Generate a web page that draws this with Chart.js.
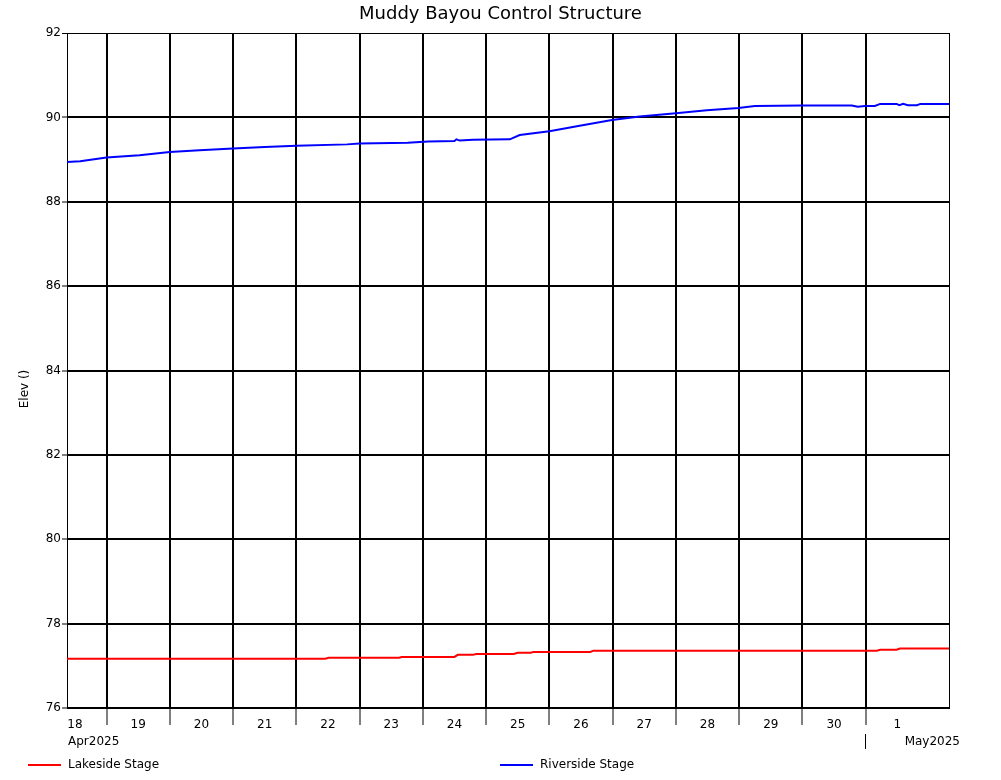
<!DOCTYPE html>
<html>
<head>
<meta charset="utf-8">
<title>Muddy Bayou Control Structure</title>
<script src="https://cdn.jsdelivr.net/npm/chart.js@4.4.0/dist/chart.umd.min.js"></script>
<style>
  html, body { margin: 0; padding: 0; background: #fff; }
  #wrap { position: relative; width: 1001px; height: 780px; }
</style>
</head>
<body>
<div id="wrap"><canvas id="stage"></canvas></div>
<script>
// readings, Apr 18 - May 2 2025 ("MM-DD HH:mm")
const lakeTimes = [
  '04-18 09:00', '04-22 11:00', '04-22 12:15', '04-23 15:00', '04-23 16:00',
  '04-24 12:00', '04-24 13:15', '04-24 19:00', '04-24 20:15', '04-25 10:30',
  '04-25 12:00', '04-25 17:00', '04-25 18:00', '04-26 15:30', '04-26 16:45',
  '05-01 04:15', '05-01 05:30', '05-01 11:45', '05-01 13:00', '05-02 08:00'
];
const lakeStage = [
  77.17, 77.17, 77.19, 77.19, 77.21,
  77.21, 77.26, 77.26, 77.28, 77.28,
  77.31, 77.31, 77.33, 77.33, 77.36,
  77.36, 77.38, 77.38, 77.41, 77.41
];

const riverTimes = [
  '04-18 09:00', '04-18 14:00', '04-19 00:00', '04-19 12:30', '04-20 00:00',
  '04-20 11:15', '04-21 00:00', '04-21 12:00', '04-22 00:00', '04-22 19:15',
  '04-23 00:00', '04-23 18:15', '04-24 02:00', '04-24 12:00', '04-24 12:45',
  '04-24 14:00', '04-24 19:00', '04-25 09:00', '04-25 12:45', '04-26 00:00',
  '04-26 11:30', '04-26 23:45', '04-27 10:15', '04-28 00:00', '04-28 11:45',
  '04-28 23:45', '04-29 06:00', '04-29 23:45', '04-30 18:45', '04-30 21:00',
  '04-30 23:45', '05-01 03:30', '05-01 05:30', '05-01 11:45', '05-01 12:45',
  '05-01 14:15', '05-01 16:00', '05-01 19:30', '05-01 20:45', '05-02 08:00'
];
const riverStage = [
  88.94, 88.96, 89.05, 89.10, 89.18,
  89.22, 89.26, 89.30, 89.33, 89.36,
  89.38, 89.40, 89.43, 89.44, 89.48,
  89.45, 89.47, 89.48, 89.58, 89.67,
  89.80, 89.94, 90.02, 90.10, 90.17,
  90.22, 90.27, 90.28, 90.28, 90.25,
  90.27, 90.27, 90.32, 90.32, 90.29,
  90.32, 90.29, 90.29, 90.32, 90.32
];

const dayLabels = ['18', '19', '20', '21', '22', '23', '24', '25', '26', '27', '28', '29', '30', '1'];
const elevTicks = [76, 78, 80, 82, 84, 86, 88, 90, 92];
const startTime = '04-18 09:00';
const endTime = '05-02 08:00';

const FONT = '"DejaVu Sans", Verdana, sans-serif';

// days since Apr 18 00:00
const t0 = Date.UTC(2025, 3, 18);
function toDay(s) {
  const [md, hm] = s.split(' ');
  const [mo, d] = md.split('-').map(Number);
  const [h, mi] = hm.split(':').map(Number);
  return (Date.UTC(2025, mo - 1, d, h, mi) - t0) / 86400000;
}

const isDay = v => Math.abs(v - Math.round(v)) < 1e-6;

// titles, month labels, legend, right frame edge
const extras = {
  id: 'extras',
  afterDraw(chart) {
    const c = chart.ctx;
    const a = chart.chartArea;
    c.save();
    c.fillStyle = '#000';
    c.strokeStyle = '#000';

    c.lineWidth = 1;
    c.beginPath();
    c.moveTo(a.right - 0.5, a.top);
    c.lineTo(a.right - 0.5, a.bottom);
    c.stroke();

    c.font = '18px ' + FONT;
    c.textAlign = 'center';
    c.textBaseline = 'alphabetic';
    c.fillText('Muddy Bayou Control Structure', 500.5, 19);

    c.font = '12px ' + FONT;
    c.save();
    c.translate(28, 389);
    c.rotate(-Math.PI / 2);
    c.textBaseline = 'alphabetic';
    c.fillText('Elev ()', 0, 0);
    c.restore();

    c.textAlign = 'left';
    c.fillText('Apr2025', 68, 745);
    c.textAlign = 'right';
    c.fillText('May2025', 960, 745);

    const xs = chart.scales.x.getPixelForValue(toDay('05-01 00:00'));
    c.beginPath();
    c.moveTo(Math.round(xs) - 0.5, 734);
    c.lineTo(Math.round(xs) - 0.5, 749);
    c.stroke();

    const items = [
      { label: chart.data.datasets[0].label, color: '#ff0000', x: 28 },
      { label: chart.data.datasets[1].label, color: '#0000ff', x: 500 }
    ];
    c.textAlign = 'left';
    c.textBaseline = 'middle';
    items.forEach(it => {
      c.strokeStyle = it.color;
      c.lineWidth = 2;
      c.beginPath();
      c.moveTo(it.x, 765);
      c.lineTo(it.x + 33, 765);
      c.stroke();
      c.fillText(it.label, it.x + 40, 765);
    });
    c.restore();
  }
};

const chart = new Chart(document.getElementById('stage'), {
  type: 'line',
  data: {
    datasets: [
      {
        label: 'Lakeside Stage',
        data: lakeTimes.map((t, i) => ({ x: toDay(t), y: lakeStage[i] })),
        borderColor: '#ff0000',
        borderWidth: 2,
        pointRadius: 0,
        tension: 0
      },
      {
        label: 'Riverside Stage',
        data: riverTimes.map((t, i) => ({ x: toDay(t), y: riverStage[i] })),
        borderColor: '#0000ff',
        borderWidth: 2,
        pointRadius: 0,
        tension: 0
      }
    ]
  },
  options: {
    responsive: true,
    maintainAspectRatio: false,
    animation: false,
    layout: { padding: { top: 33, right: 51, bottom: 0, left: 0 } },
    plugins: {
      legend: { display: false },
      tooltip: { enabled: false },
      title: { display: false }
    },
    scales: {
      x: {
        type: 'linear',
        min: toDay(startTime),
        max: toDay(endTime),
        afterBuildTicks: scale => {
          const ticks = [];
          dayLabels.forEach((lab, i) => {
            ticks.push({ value: i + 0.5 });
            if (i > 0) ticks.push({ value: i });
          });
          ticks.sort((p, q) => p.value - q.value);
          scale.ticks = ticks;
        },
        afterFit: scale => { scale.height = 72; },
        border: { display: false },
        grid: {
          color: ctx => (ctx.tick && isDay(ctx.tick.value)) ? '#000' : 'rgba(0,0,0,0)',
          tickColor: ctx => (ctx.tick && isDay(ctx.tick.value)) ? '#000' : 'rgba(0,0,0,0)',
          lineWidth: 2,
          tickWidth: 1,
          tickLength: 17
        },
        ticks: {
          autoSkip: false,
          maxRotation: 0,
          padding: -7,
          color: '#000',
          font: { family: FONT, size: 12 },
          callback: v => isDay(v) ? '' : dayLabels[Math.floor(v)]
        }
      },
      y: {
        min: 76,
        max: 92,
        afterBuildTicks: scale => { scale.ticks = elevTicks.map(v => ({ value: v })); },
        afterFit: scale => { scale.width = 67; },
        border: { display: true, color: '#000', width: 1 },
        grid: {
          color: '#000',
          lineWidth: ctx => (ctx.tick && ctx.tick.value === 92) ? 1 : 2,
          tickColor: '#000',
          tickWidth: 1,
          tickLength: 5
        },
        ticks: {
          padding: 1,
          color: '#000',
          font: { family: FONT, size: 12 }
        }
      }
    }
  },
  plugins: [extras]
});
</script>
</body>
</html>
